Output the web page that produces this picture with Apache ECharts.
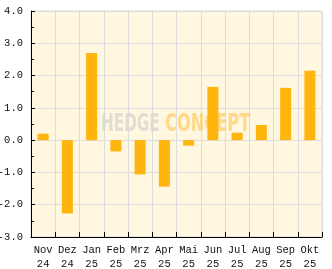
<!DOCTYPE html>
<html>
<head>
<meta charset="utf-8">
<script src="https://cdn.jsdelivr.net/npm/echarts@6/dist/echarts.min.js"></script>
<style>html,body{margin:0;padding:0;background:#fff}#c{width:332px;height:269px}</style>
</head>
<body>
<div id="c"></div>
<script>
const months = ['Nov','Dez','Jan','Feb','Mrz','Apr','Mai','Jun','Jul','Aug','Sep','Okt'];
const years = ['24','24','25','25','25','25','25','25','25','25','25','25'];
const values = [0.2, -2.27, 2.7, -0.35, -1.06, -1.44, -0.17, 1.65, 0.23, 0.47, 1.62, 2.15];
const yMin = -3, yMax = 4, yStep = 1;

const categories = months.map((m, i) => m + '\n' + years[i]);
const mono = 'Liberation Mono';
const chart = echarts.init(document.getElementById('c'), null, {renderer: 'canvas'});
chart.setOption({
  animation: false,
  grid: {left: 31, right: 10, top: 11, bottom: 32, containLabel: false, outerBoundsMode: 'none',
         show: true, backgroundColor: '#FFF7E0', borderColor: '#dddddd', borderWidth: 1},
  xAxis: {
    type: 'category', data: categories, boundaryGap: true,
    axisLine: {onZero: false, lineStyle: {color: '#000', width: 1}},
    axisTick: {show: true, inside: true, length: 5, lineStyle: {color: '#000'}},
    splitLine: {show: true, lineStyle: {color: '#dddddd', width: 1}},
    axisLabel: {fontFamily: mono, fontSize: 10.5, color: '#111', lineHeight: 14, margin: 6, interval: 0}
  },
  yAxis: {
    type: 'value', min: yMin, max: yMax, interval: yStep,
    axisLine: {show: true, lineStyle: {color: '#000', width: 1}},
    axisTick: {show: true, inside: true, length: 4, lineStyle: {color: '#000'}},
    minorTick: {show: true, splitNumber: 2, length: 3, lineStyle: {color: '#000'}},
    splitLine: {show: true, lineStyle: {color: '#dddddd', width: 1}},
    axisLabel: {fontFamily: mono, fontSize: 10.5, color: '#111', margin: 8, formatter: v => v.toFixed(1)}
  },
  graphic: [
    {type: 'text', left: 101, top: 112, scaleX: 0.61, z: 1,
     style: {text: 'HEDGE', fontFamily: 'DejaVu Sans', fontWeight: 'bold', fontSize: 25, fill: 'rgba(215,212,205,0.75)'}},
    {type: 'text', left: 165, top: 112, scaleX: 0.65, z: 1,
     style: {text: 'CONCEPT', fontFamily: 'DejaVu Sans', fontWeight: 'bold', fontSize: 25, fill: 'rgba(255,205,110,0.75)'}}
  ],
  series: [{
    type: 'bar', data: values, barWidth: 11, z: 2,
    itemStyle: {color: '#FFB50D'}
  }]
});
</script>
</body>
</html>
